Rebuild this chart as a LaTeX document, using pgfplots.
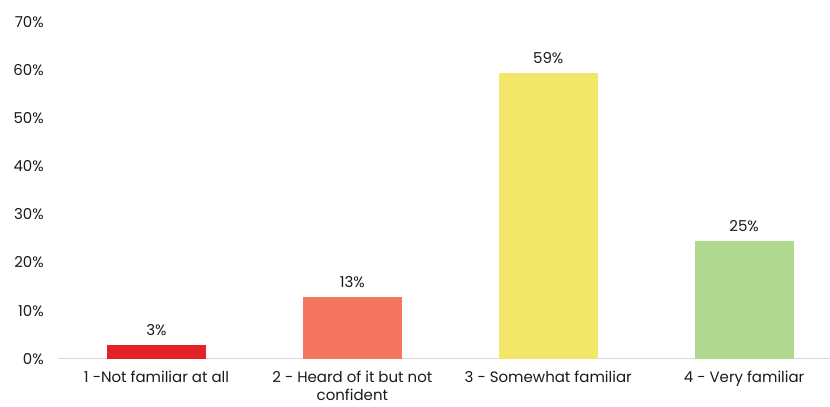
\documentclass[border=0pt]{standalone}
\usepackage{pgfplots}
\pgfplotsset{compat=1.18}
\usepackage{fontspec}
\setmainfont{Poppins}
\usetikzlibrary{calc}
\definecolor{c1}{HTML}{E52128}
\definecolor{c2}{HTML}{F47560}
\definecolor{c3}{HTML}{F3E769}
\definecolor{c4}{HTML}{B0D88F}
\definecolor{txt}{HTML}{1A1A1A}
\definecolor{axl}{HTML}{D9D9D9}
\begin{document}
\begin{tikzpicture}
\begin{axis}[name=ax,
  scale only axis, width=772bp, height=337bp,
  xmin=-0.503, xmax=3.436, ymin=0, ymax=70,
  axis x line*=bottom, axis y line=none,
  x axis line style={draw=axl, line width=1pt},
  ytick={0,10,...,70},
  xtick={0,1,2,3},
  xticklabels={{1 -Not familiar at all},{2 - Heard of it but not\\confident},{3 - Somewhat familiar},{4 - Very familiar}},
  xticklabel style={align=center, font=\fontsize{15bp}{17.5bp}\selectfont, text=txt, yshift=-9bp},
  major tick length=0pt,
  ybar, bar width=99bp, bar shift=0pt,
  nodes near coords style={font=\fontsize{15bp}{18bp}\selectfont, text=txt, yshift=6bp},
  clip=false,
]
\addplot[draw=none, fill=c1, nodes near coords={3\%}] coordinates {(0,2.9)};
\addplot[draw=none, fill=c2, nodes near coords={13\%}] coordinates {(1,12.8)};
\addplot[draw=none, fill=c3, nodes near coords={59\%}] coordinates {(2,59.3)};
\addplot[draw=none, fill=c4, nodes near coords={25\%}] coordinates {(3,24.5)};
\pgfplotsinvokeforeach{0,10,...,70}{
  \node[anchor=east, font=\fontsize{15bp}{18bp}\selectfont, text=txt, inner sep=0pt] at (axis cs:-0.503,#1) [xshift=-14bp] {#1\%};
}
\end{axis}
\path ($(ax.south west)+(-58bp,-48bp)$) rectangle ($(ax.north east)+(0,22bp)$);
\end{tikzpicture}
\end{document}
